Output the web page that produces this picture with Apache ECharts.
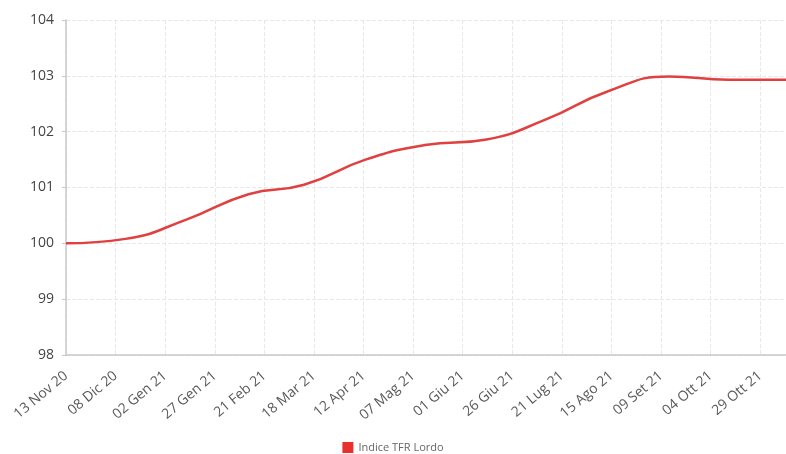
<!DOCTYPE html>
<html>
<head>
<meta charset="utf-8">
<script src="https://cdn.jsdelivr.net/npm/echarts@6/dist/echarts.min.js"></script>
<style>
html,body{margin:0;padding:0;background:#fff;}
#chart{width:786px;height:454px;}
</style>
</head>
<body>
<div id="chart"></div>
<script>
// Data
const seriesName = 'Indice TFR Lordo';
const startDate = '2020-11-13';
const pointDates = ['2020-11-13','2020-12-13','2021-01-13','2021-02-13','2021-03-13','2021-04-13','2021-05-13','2021-06-13','2021-07-13','2021-08-13','2021-09-13','2021-10-13','2021-11-13'];
const indexValues = [100.00, 100.08, 100.43, 100.88, 101.05, 101.50, 101.76, 101.86, 102.22, 102.72, 102.99, 102.93, 102.93];
const tickLabels = ['13 Nov 20','08 Dic 20','02 Gen 21','27 Gen 21','21 Feb 21','18 Mar 21','12 Apr 21','07 Mag 21','01 Giu 21','26 Giu 21','21 Lug 21','15 Ago 21','09 Set 21','04 Ott 21','29 Ott 21'];
const tickStepDays = 25;
const axisMaxDays = 363;

const DAY = 86400000;
const t0 = Date.parse(startDate + 'T00:00:00Z');
const seriesData = pointDates.map((d, i) => [Math.round((Date.parse(d + 'T00:00:00Z') - t0) / DAY), indexValues[i]]);

const chart = echarts.init(document.getElementById('chart'));
const font = "'Open Sans', sans-serif";
chart.setOption({
  animation: false,
  textStyle: { fontFamily: font },
  grid: { left: 66, top: 20, right: 0, bottom: 99, containLabel: false },
  legend: {
    top: 437,
    left: 'center',
    icon: 'rect',
    itemWidth: 11,
    itemHeight: 11,
    itemGap: 10,
    textStyle: { fontSize: 11, color: '#666', fontFamily: font },
    data: [seriesName]
  },
  xAxis: {
    type: 'value',
    min: 0,
    max: axisMaxDays,
    interval: tickStepDays,
    axisLine: { show: true, lineStyle: { color: '#c8c8c8', width: 1.5 } },
    axisTick: { show: false },
    axisLabel: {
      rotate: 40,
      margin: 19,
      fontSize: 14,
      color: '#5a5a5a',
      showMaxLabel: false,
      formatter: function (v) {
        if (v % tickStepDays !== 0) return '';
        return tickLabels[v / tickStepDays] || '';
      }
    },
    splitLine: { show: true, lineStyle: { color: '#e8e8e8', type: 'dashed', width: 1 } }
  },
  yAxis: {
    type: 'value',
    min: 98,
    max: 104,
    interval: 1,
    axisLine: { show: true, lineStyle: { color: '#c8c8c8', width: 1.5 } },
    axisTick: { show: true, length: 4, lineStyle: { color: '#c8c8c8' } },
    axisLabel: { fontSize: 14, color: '#444', margin: 12 },
    splitLine: { show: true, lineStyle: { color: '#e8e8e8', type: 'dashed', width: 1 } }
  },
  series: [{
    name: seriesName,
    type: 'line',
    data: seriesData,
    smooth: 0.5,
    showSymbol: false,
    symbol: 'none',
    lineStyle: { color: '#e04040', width: 2.5 },
    itemStyle: { color: '#e8302c' }
  }]
});
</script>
</body>
</html>
